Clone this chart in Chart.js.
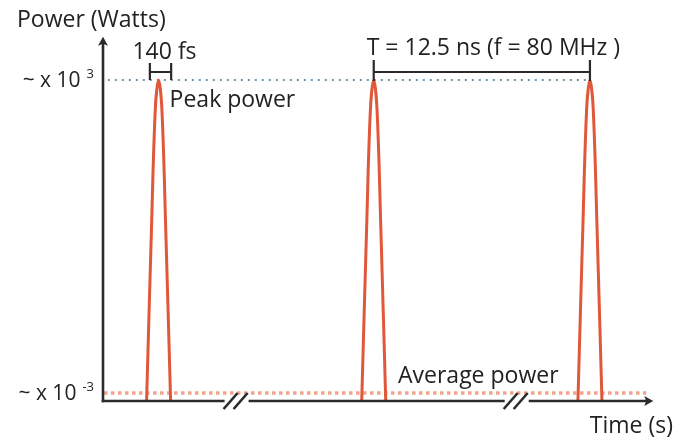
<!DOCTYPE html>
<html>
<head>
<meta charset="utf-8">
<script src="https://cdn.jsdelivr.net/npm/chart.js@4/dist/chart.umd.min.js"></script>
<style>
  html, body { margin: 0; padding: 0; background: #fff; }
  #wrap { width: 675px; height: 445px; }
</style>
</head>
<body>
<div id="wrap"><canvas id="pulseChart" width="675" height="445"></canvas></div>
<script>
// Schematic units: time axis 0..100, relative power 0..100
const pulseCenters = [10, 49.4, 89];
const pulseOffsets = [-2.2, -1.3, -0.6, 0, 0.6, 1.3, 2.2];
const pulseLevels = [0, 54, 91, 100, 91, 54, 0];
const peakLevel = 100;
const averageLevel = 2.5;
const peakLineRange = [0.7, 89];
const averageLineRange = [0, 99.3];
const fwhmBracket = [8.4, 12.3];
const periodBracket = [49.4, 89];
const axisBreaks = [24.1, 75.4];
const yTickValues = [100, 2.5];
const yTickBase = ['~ x 10', '~ x 10'];
const yTickExp = ['3', '-3'];

const FONT = '"Open Sans", "Noto Sans", sans-serif';
const INK = '#2b2b2b';
const PULSE = '#e0573a';

function pulseData(c) {
    return pulseOffsets.map(function(o, i) { return { x: c + o, y: pulseLevels[i] }; });
}

const datasets = pulseCenters.map(function(c) {
    return {
        data: pulseData(c),
        showLine: true,
        borderColor: PULSE,
        borderWidth: 3,
        pointRadius: 0,
        tension: 0.35,
        fill: false
    };
});

datasets.push({
    data: [{ x: peakLineRange[0], y: peakLevel }, { x: peakLineRange[1], y: peakLevel }],
    showLine: true,
    borderColor: '#3f7090',
    borderWidth: 1.5,
    borderDash: [2, 5],
    pointRadius: 0
});
datasets.push({
    data: [{ x: averageLineRange[0], y: averageLevel }, { x: averageLineRange[1], y: averageLevel }],
    showLine: true,
    borderColor: 'rgba(240, 140, 110, 0.8)',
    borderWidth: 3.5,
    borderDash: [3.5, 3.5],
    pointRadius: 0
});

// axes, arrows, brackets and labels drawn on top of the scales
const schematic = {
    id: 'schematic',
    afterDraw: function(chart) {
        const ctx = chart.ctx;
        const xs = chart.scales.x, ys = chart.scales.y;
        const X = function(v) { return xs.getPixelForValue(v); };
        const Y = function(v) { return ys.getPixelForValue(v); };
        const x0 = X(0) - 1, y0 = Y(0);

        ctx.save();
        ctx.strokeStyle = INK;
        ctx.fillStyle = INK;
        ctx.lineWidth = 2.6;
        ctx.lineCap = 'butt';

        // y axis with arrow
        const yTop = Y(113.5);
        ctx.beginPath();
        ctx.moveTo(x0, y0 + 1.3);
        ctx.lineTo(x0, yTop + 4);
        ctx.stroke();
        ctx.beginPath();
        ctx.moveTo(x0, yTop);
        ctx.lineTo(x0 - 5, yTop + 9);
        ctx.lineTo(x0, yTop + 7);
        ctx.lineTo(x0 + 5, yTop + 9);
        ctx.closePath();
        ctx.fill();

        // x axis with breaks and arrow
        const xEnd = X(100.6);
        const gaps = axisBreaks.map(function(b) { return [X(b) - 11, X(b) + 13]; });
        ctx.beginPath();
        ctx.moveTo(x0 - 1.3, y0);
        ctx.lineTo(gaps[0][0], y0);
        ctx.moveTo(gaps[0][1], y0);
        ctx.lineTo(gaps[1][0], y0);
        ctx.moveTo(gaps[1][1], y0);
        ctx.lineTo(xEnd - 3, y0);
        ctx.stroke();
        ctx.beginPath();
        ctx.moveTo(xEnd, y0);
        ctx.lineTo(xEnd - 9, y0 - 5);
        ctx.lineTo(xEnd - 7, y0);
        ctx.lineTo(xEnd - 9, y0 + 5);
        ctx.closePath();
        ctx.fill();
        axisBreaks.forEach(function(b) {
            const bx = X(b);
            [-5, 5].forEach(function(d) {
                ctx.beginPath();
                ctx.moveTo(bx + d - 7, y0 + 8);
                ctx.lineTo(bx + d + 7, y0 - 8);
                ctx.stroke();
            });
        });

        // 140 fs bracket
        const yp = Y(peakLevel);
        ctx.lineWidth = 2.2;
        const fa = X(fwhmBracket[0]), fb = X(fwhmBracket[1]);
        ctx.beginPath();
        ctx.moveTo(fa, yp - 17); ctx.lineTo(fa, yp);
        ctx.moveTo(fb, yp - 17); ctx.lineTo(fb, yp);
        ctx.moveTo(fa, yp - 8); ctx.lineTo(fb, yp - 8);
        ctx.stroke();

        // period bracket
        const pa = X(periodBracket[0]), pb = X(periodBracket[1]);
        ctx.beginPath();
        ctx.moveTo(pa, yp - 20); ctx.lineTo(pa, yp + 1);
        ctx.moveTo(pb, yp - 20); ctx.lineTo(pb, yp + 1);
        ctx.moveTo(pa, yp - 8); ctx.lineTo(pb, yp - 8);
        ctx.stroke();

        // texts
        ctx.fillStyle = '#222';
        ctx.textBaseline = 'alphabetic';
        ctx.font = '23px ' + FONT;
        ctx.textAlign = 'left';
        ctx.fillText('Power (Watts)', 17, 27);
        ctx.textAlign = 'center';
        ctx.fillText('140 fs', (fa + fb) / 2 + 4, yp - 21);
        ctx.textAlign = 'left';
        ctx.fillText('T = 12.5 ns (f = 80 MHz )', pa - 7, yp - 25);
        ctx.fillText('Peak power', X(pulseCenters[0]) + 11, yp + 27);
        ctx.fillText('Average power', 398, Y(averageLevel) - 10);
        ctx.textAlign = 'right';
        ctx.fillText('Time (s)', 673, y0 + 32);

        // y tick labels with superscripts
        yTickValues.forEach(function(v, i) {
            const ty = Y(v) + 7;
            ctx.font = '13px ' + FONT;
            ctx.textAlign = 'right';
            const expW = ctx.measureText(yTickExp[i]).width;
            ctx.fillText(yTickExp[i], 94, ty - 9);
            ctx.font = '21px ' + FONT;
            ctx.fillText(yTickBase[i], 94 - expW - 6, ty);
        });
        ctx.restore();
    }
};

const chart = new Chart(document.getElementById('pulseChart').getContext('2d'), {
    type: 'scatter',
    data: { datasets: datasets },
    options: {
        responsive: false,
        animation: false,
        layout: { padding: { left: 104, right: 25, top: 80, bottom: 44 } },
        plugins: { legend: { display: false }, tooltip: { enabled: false } },
        scales: {
            x: { type: 'linear', min: 0, max: 100, display: false },
            y: { type: 'linear', min: 0, max: 100, display: false }
        },
        clip: false
    },
    plugins: [schematic]
});
</script>
</body>
</html>
